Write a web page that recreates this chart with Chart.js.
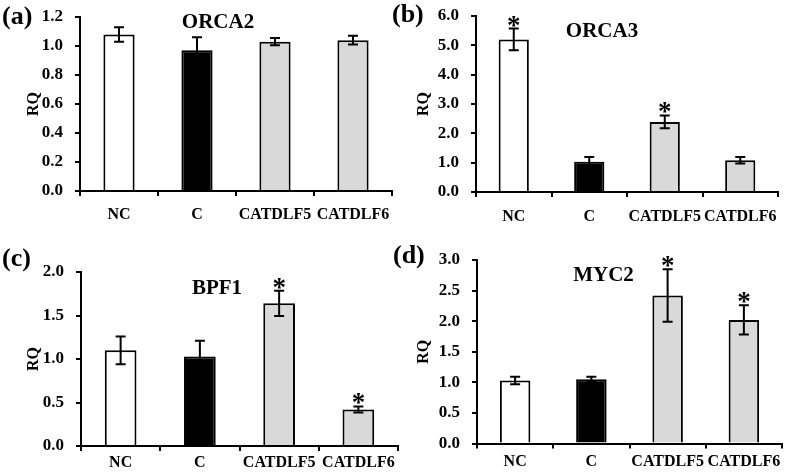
<!DOCTYPE html>
<html><head><meta charset="utf-8">
<script src="https://cdn.jsdelivr.net/npm/chart.js@4/dist/chart.umd.min.js"></script>
<style>
html,body{margin:0;padding:0;background:#fff;}
#wrap{position:relative;width:787px;height:476px;overflow:hidden;background:#fff;}
canvas{position:absolute;}
</style></head><body>
<div id="wrap">
<canvas id="c0"></canvas><canvas id="c1"></canvas><canvas id="c2"></canvas><canvas id="c3"></canvas>
</div>
<script>
// ---- data ----
const categories = ['NC', 'C', 'CATDLF5', 'CATDLF6'];
const genes = ['ORCA2', 'ORCA3', 'BPF1', 'MYC2'];
const panelTags = ['(a)', '(b)', '(c)', '(d)'];
const yAxisTitle = 'RQ';

const orca2Values = [1.08, 0.97, 1.03, 1.04];
const orca2Errors = [0.05, 0.09, 0.025, 0.03];
const orca2Stars  = [false, false, false, false];

const orca3Values = [5.20, 1.03, 2.39, 1.08];
const orca3Errors = [0.37, 0.16, 0.22, 0.11];
const orca3Stars  = [true, false, true, false];

const bpf1Values = [1.10, 1.03, 1.64, 0.42];
const bpf1Errors = [0.16, 0.18, 0.145, 0.035];
const bpf1Stars  = [false, false, true, true];

const myc2Values = [1.03, 1.05, 2.42, 2.02];
const myc2Errors = [0.06, 0.04, 0.43, 0.24];
const myc2Stars  = [false, false, true, true];

const yMaxima = [1.2, 6.0, 2.0, 3.0];
const yTickSteps = [0.2, 1.0, 0.5, 0.5];

// ---- styles / layout ----
const barColors = ['#ffffff', '#000000', '#d9d9d9', '#d9d9d9'];
const FONT = '"Liberation Serif", "Times New Roman", serif';
const layouts = [
  {left:0,   top:0,   w:395, h:238, l:80, r:392, t:17, b:191,   lab:9,  tx:218,   ty:23,   gx:2, gy:17},
  {left:390, top:0,   w:397, h:238, l:86, r:388, t:16, b:192,   lab:10, tx:212,   ty:32,   gx:2, gy:15},
  {left:0,   top:238, w:400, h:238, l:81, r:398, t:34, b:208,   lab:2,  tx:217,   ty:50.5, gx:2, gy:21.5},
  {left:390, top:238, w:397, h:238, l:87, r:392, t:22, b:205.5, lab:4,  tx:213.5, ty:37.5, gx:3, gy:18.5}
];
const series = [
  [orca2Values, orca2Errors, orca2Stars],
  [orca3Values, orca3Errors, orca3Stars],
  [bpf1Values, bpf1Errors, bpf1Stars],
  [myc2Values, myc2Errors, myc2Stars]
];

const errPlugin = {
  id: 'errs',
  afterDatasetsDraw(chart) {
    const P = chart.options.plugins.errs;
    const ctx = chart.ctx;
    const meta = chart.getDatasetMeta(0);
    const ys = chart.scales.y;
    ctx.save();
    ctx.strokeStyle = '#000';
    ctx.fillStyle = '#000';
    ctx.lineWidth = 2;
    meta.data.forEach((bar, i) => {
      const v = P.values[i], e = P.errors[i];
      const yt = ys.getPixelForValue(v + e), yb = ys.getPixelForValue(v - e);
      const x = bar.x;
      ctx.beginPath();
      ctx.moveTo(x, yt); ctx.lineTo(x, yb);
      ctx.moveTo(x - 5, yt); ctx.lineTo(x + 5, yt);
      ctx.moveTo(x - 5, yb); ctx.lineTo(x + 5, yb);
      ctx.stroke();
      if (P.stars[i]) {
        ctx.font = 'bold 27px ' + FONT;
        ctx.textAlign = 'center';
        ctx.textBaseline = 'alphabetic';
        const m = ctx.measureText('*');
        ctx.fillText('*', x, yt - 2 - m.actualBoundingBoxDescent);
      }
    });
    ctx.restore();
  },
  afterDraw(chart) {
    const P = chart.options.plugins.errs;
    const ctx = chart.ctx;
    ctx.save();
    ctx.fillStyle = '#000';
    ctx.textBaseline = 'middle';
    ctx.font = 'bold 21px ' + FONT;
    ctx.textAlign = 'center';
    ctx.fillText(P.title, P.tx, P.ty);
    ctx.font = 'bold 26px ' + FONT;
    ctx.textAlign = 'left';
    ctx.fillText(P.tag, P.gx, P.gy);
    ctx.restore();
  }
};

layouts.forEach((L, k) => {
  const cv = document.getElementById('c' + k);
  cv.width = L.w; cv.height = L.h;
  cv.style.left = L.left + 'px'; cv.style.top = L.top + 'px';
  cv.style.width = L.w + 'px'; cv.style.height = L.h + 'px';
  const [vals, errs, stars] = series[k];
  new Chart(cv.getContext('2d'), {
    type: 'bar',
    data: {
      labels: categories,
      datasets: [{
        data: vals,
        backgroundColor: barColors,
        borderColor: '#000',
        borderWidth: 2,
        barPercentage: 0.4,
        categoryPercentage: 1.0
      }]
    },
    options: {
      responsive: false,
      animation: false,
      events: [],
      devicePixelRatio: 1,
      layout: { padding: { left: 0, right: L.w - L.r, top: L.t, bottom: 0 } },
      plugins: {
        legend: { display: false },
        tooltip: { enabled: false },
        errs: { values: vals, errors: errs, stars: stars, title: genes[k], tag: panelTags[k], tx: L.tx, ty: L.ty, gx: L.gx, gy: L.gy }
      },
      scales: {
        x: {
          grid: { display: true, drawOnChartArea: false, drawTicks: true, tickLength: 5, color: '#000', lineWidth: 2, offset: true },
          border: { display: true, color: '#000', width: 2 },
          ticks: { color: '#000', font: { family: FONT, weight: 'bold', size: 16 }, padding: L.lab, maxRotation: 0, minRotation: 0, autoSkip: false },
          afterFit(s) { s.height = L.h - L.b; s.paddingLeft = 0; s.paddingRight = 0; }
        },
        y: {
          min: 0, max: yMaxima[k],
          grid: { display: true, drawOnChartArea: false, drawTicks: true, tickLength: 5, color: '#000', lineWidth: 2 },
          border: { display: true, color: '#000', width: 2 },
          ticks: { stepSize: yTickSteps[k], color: '#000', font: { family: FONT, weight: 'bold', size: 17 }, padding: 12,
                   callback: v => Number(v).toFixed(1) },
          title: { display: true, text: yAxisTitle, color: '#000', font: { family: FONT, weight: 'bold', size: 16 }, padding: { top: 24, bottom: 0 } },
          afterFit(s) { s.width = L.l; s.paddingTop = 0; s.paddingBottom = 0; }
        }
      }
    },
    plugins: [errPlugin]
  });
});
</script>
</body></html>
